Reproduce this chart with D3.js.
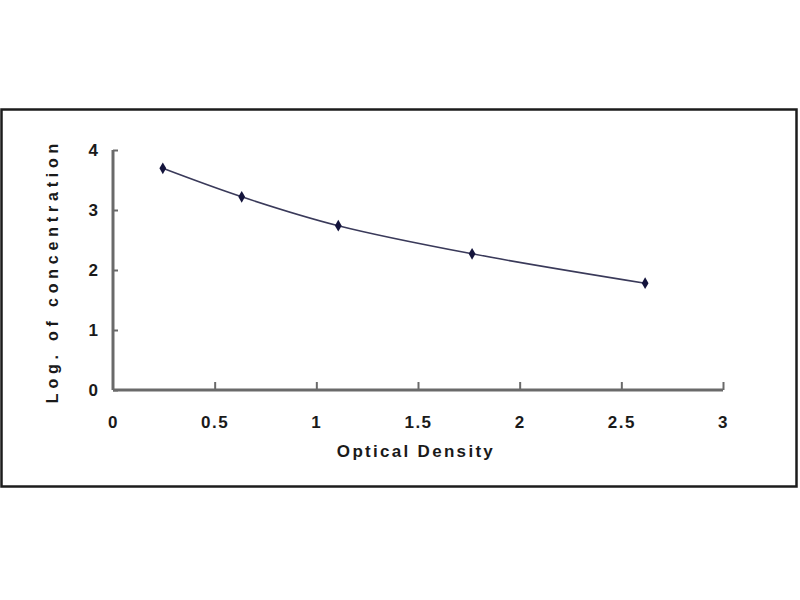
<!DOCTYPE html>
<html><head><meta charset="utf-8">
<script src="https://cdn.jsdelivr.net/npm/d3@7"></script>
<style>
html,body{margin:0;padding:0;background:#fff;}
svg{display:block;}
text{font-family:Arial,"Liberation Sans",sans-serif;font-weight:bold;fill:#1a1a1a;}
</style></head>
<body>
<svg id="chart" width="800" height="600"></svg>
<script>
const odValues = [0.245, 0.633, 1.108, 1.766, 2.617];
const logConc = [3.695, 3.22, 2.738, 2.27, 1.78];
const xTicks = [0, 0.5, 1, 1.5, 2, 2.5, 3];
const yTicks = [0, 1, 2, 3, 4];
const xTitle = "Optical Density";
const yTitle = "Log. of concentration";

const svg = d3.select("#chart");
svg.append("rect").attr("x",1.5).attr("y",109.5).attr("width",795).attr("height",377)
  .attr("fill","#fff").attr("stroke","#1c1c1c").attr("stroke-width",2.5);

const x = d3.scaleLinear().domain([0,3]).range([113,723]);
const y = d3.scaleLinear().domain([0,4]).range([390,150]);

const axisColor = "#6a6a6a";
// x axis
const gx = svg.append("g").attr("transform","translate(0,390)")
  .call(d3.axisBottom(x).tickValues(xTicks).tickSize(-8).tickPadding(30).tickFormat(d3.format("")));
gx.select(".domain").attr("stroke",axisColor).attr("stroke-width",3);
gx.selectAll(".tick line").attr("stroke",axisColor).attr("stroke-width",2);
gx.selectAll(".tick text").attr("font-size",17).attr("fill","#1a1a1a").attr("dy",0).attr("y",38)
  .attr("letter-spacing",1.5);
gx.selectAll(".tick").filter(d=>d===0).select("line").remove();

// y axis
const gy = svg.append("g").attr("transform","translate(113,0)")
  .call(d3.axisLeft(y).tickValues(yTicks).tickSize(-5).tickPadding(15).tickFormat(d3.format("")));
gy.select(".domain").attr("stroke",axisColor).attr("stroke-width",3);
gy.selectAll(".tick line").attr("stroke",axisColor).attr("stroke-width",2);
gy.selectAll(".tick text").attr("font-size",17).attr("fill","#1a1a1a").attr("dy","0.35em");
gx.selectAll(".domain").attr("d","M113,0H723");
gy.selectAll(".domain").attr("d","M0,390V150");

// titles
svg.append("text").attr("x",416).attr("y",457).attr("text-anchor","middle")
  .attr("font-size",17).attr("letter-spacing",2.3).text(xTitle);
svg.append("text").attr("transform","translate(58,271) rotate(-90)").attr("text-anchor","middle")
  .attr("font-size",16).attr("letter-spacing",4.8).text(yTitle);

// curve
const pts = odValues.map((v,i)=>[v,logConc[i]]);
const line = d3.line().x(d=>x(d[0])).y(d=>y(d[1])).curve(d3.curveCatmullRom.alpha(0.5));
svg.append("path").attr("d",line(pts)).attr("fill","none").attr("stroke","#3a3a5a").attr("stroke-width",1.6);

svg.selectAll(".pt").data(pts).enter().append("path").attr("class","pt")
  .attr("transform",d=>`translate(${x(d[0])},${y(d[1])})`)
  .attr("d",d3.symbol().type(d3.symbolDiamond).size(40))
  .attr("fill","#14143c");
</script>
</body></html>
